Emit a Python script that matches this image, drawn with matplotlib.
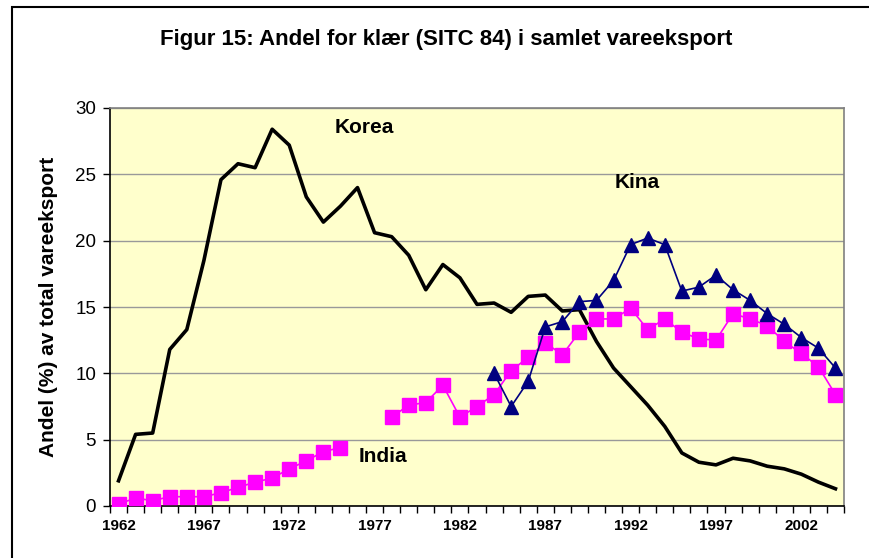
import numpy as np
import matplotlib
matplotlib.use('Agg')
import matplotlib.pyplot as plt
from matplotlib.patches import Rectangle

nan = np.nan

years = list(range(1962, 2005))

korea = [1.9, 5.4, 5.5, 11.8, 13.3, 18.5, 24.6, 25.8, 25.5, 28.4,
         27.2, 23.3, 21.4, 22.6, 24.0, 20.6, 20.3, 18.9, 16.3, 18.2,
         17.2, 15.2, 15.3, 14.6, 15.8, 15.9, 14.7, 14.8, 12.4, 10.4,
         9.0, 7.6, 6.0, 4.0, 3.3, 3.1, 3.6, 3.4, 3.0, 2.8,
         2.4, 1.8, 1.3]

india = [0.15, 0.6, 0.4, 0.7, 0.7, 0.7, 1.0, 1.4, 1.8, 2.1,
         2.8, 3.4, 4.1, 4.4, nan, nan, 6.7, 7.6, 7.8, 9.1,
         6.7, 7.5, 8.4, 10.2, 11.2, 12.3, 11.4, 13.1, 14.1, 14.1,
         14.9, 13.3, 14.1, 13.1, 12.6, 12.5, 14.5, 14.1, 13.6, 12.4,
         11.5, 10.5, 8.4]

kina = [nan] * 22 + [10.0, 7.5, 9.4, 13.5, 13.9, 15.4, 15.5, 17.0, 19.7, 20.2,
                     19.7, 16.2, 16.5, 17.4, 16.3, 15.5, 14.5, 13.7, 12.7, 11.9,
                     10.4]

label_years = [1962, 1967, 1972, 1977, 1982, 1987, 1992, 1997, 2002]

plt.rcParams['font.family'] = ['Liberation Sans', 'DejaVu Sans']

fig = plt.figure(figsize=(8.69, 5.58), dpi=100)
fig.patch.set_facecolor('white')

# outer frame (runs off the right and bottom edge)
fig.patches.append(Rectangle((12 / 869, -0.1), 1.0, (558 - 7) / 558 + 0.1,
                             transform=fig.transFigure, fill=False,
                             edgecolor='black', linewidth=1.5, clip_on=False))

ax = fig.add_axes([110 / 869, 52 / 558, 734 / 869, 398 / 558])
ax.set_facecolor('#FFFFCC')

ax.plot(years, korea, color='black', linewidth=2.6, zorder=3)
ax.plot(years, india, color='#FF00FF', linewidth=1.2, marker='s',
        markersize=10, markeredgecolor='#FF00FF', zorder=4)
ax.plot(years, kina, color='#000080', linewidth=1.2, marker='^',
        markersize=10, markeredgecolor='#000080', zorder=5)

ax.set_xlim(1961.5, 2004.5)
ax.set_ylim(0, 30)

ax.set_yticks(range(0, 31, 5))
ax.yaxis.grid(True, color='#999999', linewidth=1.0)
ax.set_axisbelow(True)
ax.tick_params(axis='y', direction='out', length=5, width=1, pad=5,
               labelsize=13.5)

# tick marks between categories, labels every fifth year
ax.set_xticks(np.arange(1961.5, 2005, 1))
ax.set_xticklabels([])
ax.tick_params(axis='x', which='major', direction='out', length=5, width=1)
ax.set_xticks(label_years, minor=True)
ax.set_xticklabels([str(y) for y in label_years], minor=True,
                   fontweight='bold', fontsize=11)
ax.tick_params(axis='x', which='minor', length=0, pad=9)

ax.spines['left'].set_color('black')
ax.spines['bottom'].set_color('black')
ax.spines['top'].set_color('#808080')
ax.spines['right'].set_color('#808080')
for s in ax.spines.values():
    s.set_linewidth(1.2)

ax.set_ylabel('Andel (%) av total vareeksport', fontsize=15,
              fontweight='bold', labelpad=12)

ax.text(1976.4, 28.5, 'Korea', fontsize=15, fontweight='bold',
        ha='center', va='center')
ax.text(1992.4, 24.4, 'Kina', fontsize=15, fontweight='bold',
        ha='center', va='center')
ax.text(1977.5, 3.7, 'India', fontsize=15, fontweight='bold',
        ha='center', va='center')

fig.text(446 / 869, (558 - 40) / 558,
         'Figur 15: Andel for klær (SITC 84) i samlet vareeksport',
         fontsize=16, fontweight='bold', ha='center', va='center')

fig.savefig('out.png', dpi=100)
